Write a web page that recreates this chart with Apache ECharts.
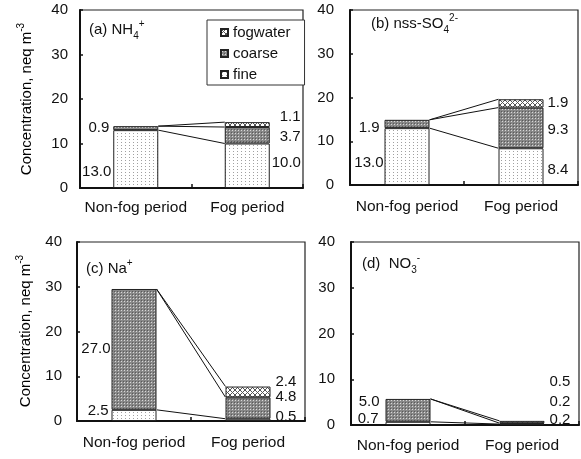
<!DOCTYPE html>
<html><head><meta charset="utf-8">
<script src="https://cdn.jsdelivr.net/npm/echarts@6/dist/echarts.min.js"></script>
<style>html,body{margin:0;padding:0;background:#fff}#c{width:581px;height:459px}</style>
</head><body><div id="c"></div>
<script>
// ---------- data ----------
const categories = ['Non-fog period', 'Fog period'];
const yMin = 0, yMax = 40, yStep = 10;
const seriesNames = ['fine', 'coarse', 'fogwater'];

const nh4Fine = [13.0, 10.0];
const nh4Coarse = [0.9, 3.7];
const nh4Fog = [null, 1.1];

const so4Fine = [13.0, 8.4];
const so4Coarse = [1.9, 9.3];
const so4Fog = [null, 1.9];

const naFine = [2.5, 0.5];
const naCoarse = [27.0, 4.8];
const naFog = [null, 2.4];

const no3Fine = [0.7, 0.2];
const no3Coarse = [5.0, 0.2];
const no3Fog = [null, 0.5];

// ---------- patterns ----------
function pat(w, h, draw) {
  const c = document.createElement('canvas'); c.width = w; c.height = h;
  const g = c.getContext('2d'); draw(g, w, h);
  return { image: c, repeat: 'repeat' };
}
const finePat = pat(4, 3, (g, w, h) => { g.fillStyle = '#fff'; g.fillRect(0,0,w,h); g.fillStyle = '#a0a0a0'; g.fillRect(1,1,1,1); });
const coarsePat = pat(3, 3, (g, w, h) => { g.fillStyle = '#888'; g.fillRect(0,0,w,h); g.fillStyle = '#d8d8d8'; g.fillRect(1,1,1,1); g.fillStyle='#5a5a5a'; g.fillRect(0,0,1,1); });
const fogPat = pat(5, 5, (g, w, h) => {
  g.fillStyle = '#fff'; g.fillRect(0,0,w,h);
  g.strokeStyle = '#555'; g.lineWidth = 1;
  g.beginPath(); g.moveTo(0,0); g.lineTo(5,5); g.moveTo(5,0); g.lineTo(0,5); g.stroke();
});
const patterns = { fine: finePat, coarse: coarsePat, fogwater: fogPat };

// ---------- layout ----------
const FONT = 'Liberation Sans, Arial, sans-serif';
const BAR_W = 45;
const panels = [
  { data: [nh4Fine, nh4Coarse, nh4Fog], grid: {left: 80, top: 10, width: 223, height: 178}, yMargin: 12, xMargin: 12,
    // offsets: [nfFine, nfCoarse, fogFine, fogCoarse, fogFog]
    off: [[3,13],[1,0],[-3,-3],[5,2],[5,-8]] },
  { data: [so4Fine, so4Coarse, so4Fog], grid: {left: 350, top: 10, width: 228, height: 175}, yMargin: 16, xMargin: 14,
    off: [[4,6],[0,4],[-1,3],[-1,2],[-1,-1]] },
  { data: [naFine, naCoarse, naFog], grid: {left: 77, top: 242, width: 228, height: 179}, yMargin: 15, xMargin: 14,
    off: [[2,-5],[4,-1],[0,-3],[0,-11],[0,-10]] },
  { data: [no3Fine, no3Coarse, no3Fog], grid: {left: 351, top: 242, width: 228, height: 183}, yMargin: 16, xMargin: 13,
    off: [[-2,-5],[-1,-9],[0,-5],[0,-22],[0,-40]] }
];

const grids = [], xAxes = [], yAxes = [], series = [];
panels.forEach((p, i) => {
  grids.push(Object.assign({ show: true, borderColor: '#222', borderWidth: 1.2, backgroundColor: 'transparent' }, p.grid));
  xAxes.push({
    type: 'category', gridIndex: i, data: categories, boundaryGap: true,
    axisLine: { lineStyle: { color: '#111', width: 2 } },
    axisTick: { show: true, inside: true, length: 4, interval: 0, lineStyle: { color: '#111', width: 1.5 } },
    axisLabel: { color: '#111', fontSize: 15.5, fontFamily: FONT, margin: p.xMargin, interval: 0 }
  });
  yAxes.push({
    type: 'value', gridIndex: i, min: yMin, max: yMax, interval: yStep,
    axisLine: { show: true, lineStyle: { color: '#111', width: 2 } },
    axisTick: { show: true, inside: true, length: 3, lineStyle: { color: '#111', width: 1.5 } },
    splitLine: { show: false },
    axisLabel: { color: '#111', fontSize: 15, fontFamily: FONT, margin: p.yMargin }
  });
  const offIdx = { fine: [0, 2], coarse: [1, 3], fogwater: [null, 4] };
  seriesNames.forEach((name, k) => {
    const vals = p.data[k];
    series.push({
      type: 'bar', name, xAxisIndex: i, yAxisIndex: i, stack: 'p' + i, barWidth: BAR_W,
      itemStyle: { color: patterns[name], borderColor: '#222', borderWidth: 1 },
      label: { show: true, fontSize: 15, fontFamily: FONT, color: '#111',
        formatter: prm => (prm.value == null ? '' : Number(prm.value).toFixed(1)) },
      data: vals.map((v, j) => {
        if (v == null) return '-';
        const oi = offIdx[name][j];
        return { value: v, label: { position: j === 0 ? 'left' : 'right', distance: 5, offset: p.off[oi] } };
      })
    });
  });
  const [f, c, w] = p.data;
  const nfTotal = f[0] + c[0];
  const fogAir = f[1] + c[1];
  const fogTotal = fogAir + w[1];
  series.push({
    type: 'custom', name: 'connector', xAxisIndex: i, yAxisIndex: i, silent: true,
    encode: { x: 0, y: 1 },
    data: [[0, nfTotal, fogTotal], [0, nfTotal, fogAir], [0, f[0], f[1]]],
    renderItem: (params, api) => {
      const a = api.coord([0, api.value(1)]);
      const b = api.coord([1, api.value(2)]);
      return { type: 'line', shape: { x1: a[0] + BAR_W / 2, y1: a[1], x2: b[0] - BAR_W / 2, y2: b[1] },
        style: { stroke: '#111', lineWidth: 1 } };
    },
    z: 3
  });
});

const richBase = {
  n: { fontSize: 15, fontFamily: FONT, color: '#111', lineHeight: 22 },
  sub: { fontSize: 10, fontFamily: FONT, color: '#111', lineHeight: 9, verticalAlign: 'bottom' },
  sup: { fontSize: 10, fontFamily: FONT, color: '#111', lineHeight: 11, verticalAlign: 'top' }
};
function tx(x, y, text, extra) {
  return Object.assign({ type: 'text', x, y, z: 100,
    style: { text, rich: richBase, fontSize: 15, fontFamily: FONT, fill: '#111', verticalAlign: 'middle' } }, extra || {});
}
const ytitle = '{n|Concentration, neq m}{sup|-3}';
const graphic = [
  tx(89, 30, '{n|(a) NH}{sub|4}{sup|+}'),
  tx(371, 24, '{n|(b) nss-SO}{sub|4}{sup|2-}'),
  tx(86, 269, '{n|(c) Na}{sup|+}'),
  tx(362, 264, '{n|(d)  NO}{sub|3}{sup|-}'),
  { type: 'text', x: 27, y: 99, rotation: Math.PI / 2, z: 100,
    style: { text: ytitle, rich: richBase, align: 'center', verticalAlign: 'middle' } },
  { type: 'text', x: 26, y: 331, rotation: Math.PI / 2, z: 100,
    style: { text: ytitle, rich: richBase, align: 'center', verticalAlign: 'middle' } }
];

const chart = echarts.init(document.getElementById('c'), null, { renderer: 'canvas' });
chart.setOption({
  animation: false,
  backgroundColor: '#fff',
  textStyle: { fontFamily: FONT },
  grid: grids, xAxis: xAxes, yAxis: yAxes, series,
  legend: {
    data: ['fogwater', 'coarse', 'fine'], orient: 'vertical', left: 207, top: 20,
    icon: 'rect', itemWidth: 7, itemHeight: 7, itemGap: 6, selectedMode: false,
    padding: [5, 14, 3, 13], borderColor: '#333', borderWidth: 1, backgroundColor: '#fff',
    textStyle: { fontSize: 15, fontFamily: FONT, color: '#111', lineHeight: 14 }
  },
  graphic
});
</script></body></html>
